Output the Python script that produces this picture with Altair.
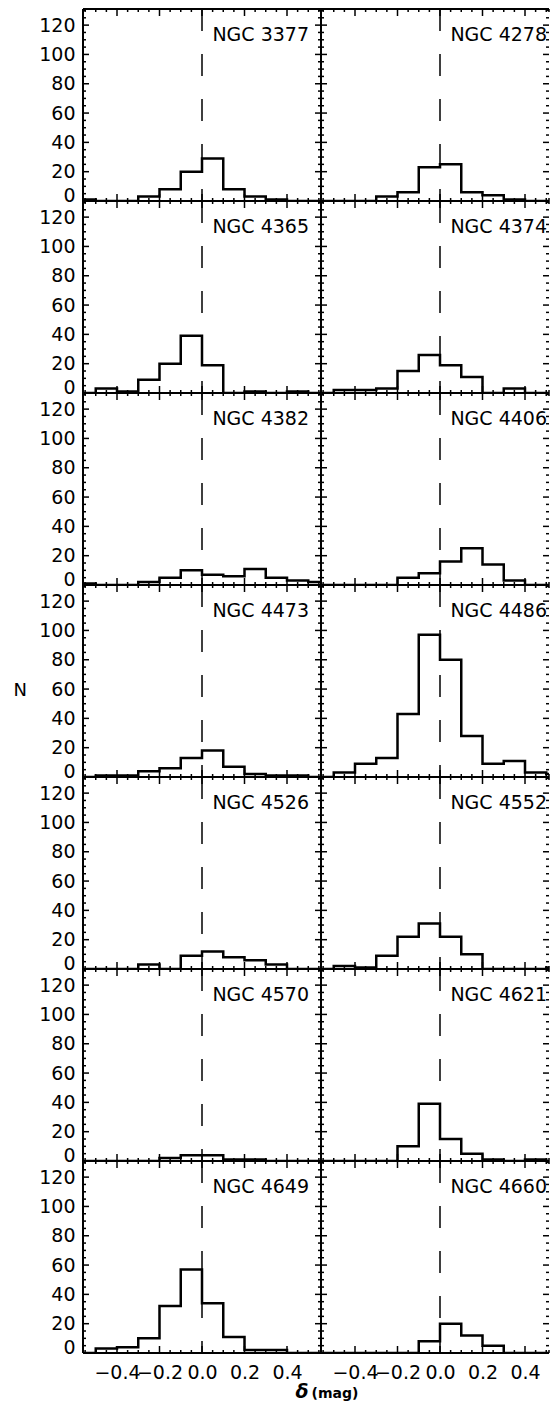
import altair as alt
import pandas as pd

# ---------------- data ----------------
galaxies = ["NGC 3377", "NGC 4278", "NGC 4365", "NGC 4374", "NGC 4382", "NGC 4406",
            "NGC 4473", "NGC 4486", "NGC 4526", "NGC 4552", "NGC 4570", "NGC 4621",
            "NGC 4649", "NGC 4660"]

# histogram bin edges (delta, mag); 12 bins of 0.1
bin_edges = [-0.6, -0.5, -0.4, -0.3, -0.2, -0.1, 0.0, 0.1, 0.2, 0.3, 0.4, 0.5, 0.6]

counts_3377 = [1, 0, 0, 3, 8, 20, 29, 8, 3, 1, 0, 0]
counts_4278 = [0, 0, 0, 3, 6, 23, 25, 6, 4, 1, 0, 0]
counts_4365 = [0, 3, 1, 9, 20, 39, 19, 0, 1, 0, 1, 0]
counts_4374 = [0, 2, 2, 3, 15, 26, 19, 11, 0, 3, 0, 0]
counts_4382 = [1, 0, 0, 2, 5, 10, 7, 6, 11, 5, 3, 2]
counts_4406 = [0, 0, 0, 0, 5, 8, 16, 25, 14, 3, 0, 0]
counts_4473 = [0, 1, 1, 4, 6, 13, 18, 7, 2, 1, 1, 0]
counts_4486 = [0, 3, 9, 13, 43, 97, 80, 28, 9, 11, 3, 2]
counts_4526 = [0, 0, 0, 3, 0, 9, 12, 8, 6, 3, 0, 0]
counts_4552 = [0, 2, 1, 9, 22, 31, 22, 10, 0, 0, 0, 1]
counts_4570 = [0, 0, 0, 0, 2, 4, 4, 1, 1, 0, 0, 0]
counts_4621 = [0, 0, 0, 0, 10, 39, 15, 5, 1, 0, 1, 0]
counts_4649 = [0, 3, 4, 10, 32, 57, 34, 11, 2, 2, 0, 0]
counts_4660 = [0, 0, 0, 0, 0, 8, 20, 12, 5, 0, 0, 0]

all_counts = [counts_3377, counts_4278, counts_4365, counts_4374, counts_4382,
              counts_4406, counts_4473, counts_4486, counts_4526, counts_4552,
              counts_4570, counts_4621, counts_4649, counts_4660]

zero_line = [0.0]

x_major_ticks = [-0.4, -0.2, 0.0, 0.2, 0.4]
x_minor_ticks = [-0.55, -0.5, -0.45, -0.35, -0.3, -0.25, -0.15, -0.1, -0.05,
                 0.05, 0.1, 0.15, 0.25, 0.3, 0.35, 0.45, 0.5, 0.55]
y_major_ticks = [0, 20, 40, 60, 80, 100, 120]
y_minor_ticks = [5, 10, 15, 25, 30, 35, 45, 50, 55, 65, 70, 75, 85, 90, 95,
                 105, 110, 115, 125, 130]

# ---------------- style ----------------
FONT = "DejaVu Sans"
FS = 19
H = 192
WIDTHS = [238, 228]
PX_PER_UNIT = 212.5
X_LO = -0.56
Y_DOMAIN = [0, 131]
MAJ, MIN = 7, 3
TICK_W = 1.5


def panel(i):
    name = galaxies[i]
    counts = all_counts[i]
    col, row = i % 2, i // 2
    w = WIDTHS[col]
    xscale = alt.Scale(domain=[X_LO, X_LO + w / PX_PER_UNIT], nice=False,
                       zero=False, clamp=True)
    yscale = alt.Scale(domain=Y_DOMAIN, nice=False, zero=False, clamp=True)

    if row == 6:
        xaxis = alt.Axis(
            values=x_major_ticks, format=".1f", labelFont=FONT, labelFontSize=FS,
            labelColor="black", labelPadding=10, labelOverlap=False, labelFlush=False,
            labelBound=False, ticks=False, tickSize=0, domain=False, grid=False,
            title=["δ", "(mag)"][col], titleFont=FONT,
            titleFontSize=[19, 14][col], titleFontWeight="bold",
            titleFontStyle=["italic", "normal"][col], titleColor="black",
            titleX=[212, -10][col], titleY=44, titleAlign="left",
            titleBaseline="alphabetic")
    else:
        xaxis = None

    if col == 0:
        kw = dict(title=None)
        if row == 3:
            kw = dict(title="N", titleAngle=0, titleX=-70, titleY=105,
                      titleAlign="left", titleBaseline="middle", titleFont=FONT,
                      titleFontSize=18, titleFontWeight="normal", titleColor="black")
        yaxis = alt.Axis(values=y_major_ticks, labelFont=FONT, labelFontSize=FS,
                         labelColor="black", labelPadding=8, labelFlush=True,
                         labelFlushOffset=4, labelOverlap=False, ticks=False,
                         tickSize=0, domain=False, grid=False, **kw)
    else:
        yaxis = None

    X = lambda: alt.X("delta:Q", scale=xscale, axis=xaxis)
    Y = lambda: alt.Y("N:Q", scale=yscale, axis=yaxis)

    hist_df = pd.DataFrame({"delta": bin_edges, "N": counts + [counts[-1]]})
    hist = alt.Chart(hist_df).mark_line(
        interpolate="step-after", color="black", strokeWidth=2.5, clip=True,
        strokeJoin="miter").encode(x=X(), y=Y())

    zero = alt.Chart(pd.DataFrame({"delta": zero_line})).mark_rule(
        color="black", strokeWidth=1.5, strokeDash=[22, 23]).encode(
        x=X(), y=alt.value(0), y2=alt.value(H))

    name_df = pd.DataFrame({"name": [name]})
    label = alt.Chart(name_df).mark_text(
        align="right", baseline="alphabetic", font=FONT, fontSize=FS,
        color="black").encode(x=alt.value(226), y=alt.value(32), text="name:N")

    xmaj = pd.DataFrame({"delta": x_major_ticks})
    xmin = pd.DataFrame({"delta": x_minor_ticks})
    ymaj = pd.DataFrame({"N": y_major_ticks})
    ymin = pd.DataFrame({"N": y_minor_ticks})

    def rule(df, **enc):
        return alt.Chart(df).mark_rule(color="black", strokeWidth=TICK_W).encode(**enc)

    ticks = [
        rule(xmaj, x=X(), y=alt.value(H), y2=alt.value(H - MAJ)),
        rule(xmaj, x=X(), y=alt.value(0), y2=alt.value(MAJ)),
        rule(xmin, x=X(), y=alt.value(H), y2=alt.value(H - MIN)),
        rule(xmin, x=X(), y=alt.value(0), y2=alt.value(MIN)),
        rule(ymaj, y=Y(), x=alt.value(0), x2=alt.value(MAJ - 1)),
        rule(ymaj, y=Y(), x=alt.value(w), x2=alt.value(w - MAJ + 1)),
        rule(ymin, y=Y(), x=alt.value(0), x2=alt.value(MIN)),
        rule(ymin, y=Y(), x=alt.value(w), x2=alt.value(w - MIN)),
    ]

    def frame(**enc):
        return alt.Chart(name_df).mark_rule(color="black", strokeWidth=2).encode(**enc)

    frames = [
        frame(x=alt.value(0), x2=alt.value(w), y=alt.value(0)),
        frame(x=alt.value(0), x2=alt.value(w), y=alt.value(H)),
        frame(x=alt.value(0), y=alt.value(0), y2=alt.value(H)),
    ]
    if col == 0:
        frames.append(frame(x=alt.value(w), y=alt.value(0), y2=alt.value(H)))

    return alt.layer(hist, zero, label, *ticks, *frames).properties(width=w, height=H)


panels = [panel(i) for i in range(len(galaxies))]

chart = alt.concat(*panels, columns=2, spacing=0).properties(
    bounds="flush",
    padding={"left": 5, "top": 0, "right": 0, "bottom": 0},
).configure_view(stroke=None)

chart.save("out.html", embed_options={"renderer": "svg", "actions": False})
